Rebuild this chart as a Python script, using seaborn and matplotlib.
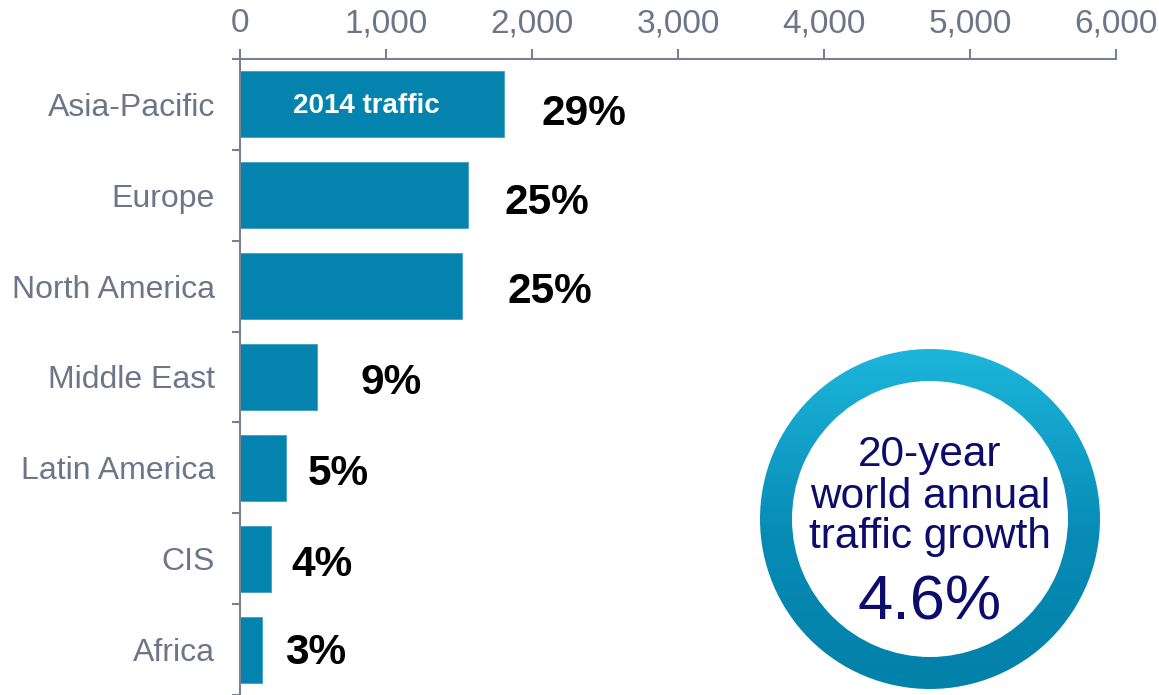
import matplotlib
matplotlib.use("Agg")
import matplotlib.pyplot as plt
import matplotlib.patches as mpatches
from matplotlib.colors import LinearSegmentedColormap
from matplotlib import font_manager
import numpy as np
import pandas as pd
import seaborn as sns

# data
regions = ["Asia-Pacific", "Europe", "North America", "Middle East",
           "Latin America", "CIS", "Africa"]
traffic_2014 = [1808, 1564, 1523, 530, 313, 210, 153]
share_labels = ["29%", "25%", "25%", "9%", "5%", "4%", "3%"]
x_ticks = [0, 1000, 2000, 3000, 4000, 5000, 6000]
x_tick_labels = ["0", "1,000", "2,000", "3,000", "4,000", "5,000", "6,000"]
bar_text = "2014 traffic"
growth_lines = ["20-year", "world annual", "traffic growth"]
growth_value = "4.6%"

# styling
BAR = "#0383ad"
GREY = "#6e7588"
AXIS = "#7a8191"
NAVY = "#0c0c6c"
PX = 0.72  # points per pixel at dpi 100

sns.set_theme(style="white")
plt.rcParams["font.family"] = ["Liberation Sans", "DejaVu Sans"]

installed = {f.name for f in font_manager.fontManager.ttflist}
narrow = "Liberation Sans Narrow" if "Liberation Sans Narrow" in installed else "Liberation Sans"
tick_size = 25 if narrow != "Liberation Sans" else 24

fig = plt.figure(figsize=(11.59, 6.95), dpi=100)
ax = fig.add_axes([240 / 1159, 0, 876 / 1159, 636 / 695])

df = pd.DataFrame({"region": regions, "traffic": traffic_2014})
sns.barplot(data=df, x="traffic", y="region", orient="h", color=BAR,
            saturation=1, width=0.726, edgecolor="#3f9fc3", linewidth=0.6, ax=ax)

ax.set_xlim(0, 6000)
ax.set_ylim(6.5, -0.5)
ax.set_xlabel("")
ax.set_ylabel("")

# x axis on top
ax.xaxis.tick_top()
ax.set_xticks(x_ticks)
ax.set_xticklabels(x_tick_labels, fontfamily=narrow, fontsize=tick_size, color=GREY)
ax.tick_params(axis="x", top=True, labeltop=True, bottom=False, labelbottom=False,
               direction="out", length=10 * PX, width=1.5, color=AXIS, pad=7)

# category labels, ticks between categories
ax.tick_params(axis="y", which="major", left=False, length=0, pad=18,
               labelsize=23, labelcolor=GREY)
ax.set_yticks(np.arange(-0.5, len(regions), 1), minor=True)
ax.tick_params(axis="y", which="minor", left=True, direction="out",
               length=8 * PX, width=1.5, color=AXIS)

for side in ["bottom", "right"]:
    ax.spines[side].set_visible(False)
for side in ["top", "left"]:
    ax.spines[side].set_color(AXIS)
    ax.spines[side].set_linewidth(1.5)

# share labels next to the bars
label_dx = [38, 36, 45, 43, 22, 21, 23]
label_dy = [21, 19, 17, 17, 17, 17, 14]
for i, (v, lab) in enumerate(zip(traffic_2014, share_labels)):
    ax.annotate(lab, xy=(v, i), xytext=(label_dx[i] * PX, -label_dy[i] * PX),
                textcoords="offset points", ha="left", va="baseline",
                fontsize=30.5, fontweight="bold", color="black")

ax.annotate(bar_text, xy=(traffic_2014[0] * 0.477, 0), xytext=(0, -9 * PX),
            textcoords="offset points", ha="center", va="baseline",
            fontsize=20, fontweight="bold", color="white")

# growth ring with vertical gradient
ax2 = fig.add_axes([760 / 1159, 6 / 695, 340 / 1159, 340 / 695])
ax2.set_xlim(-1, 1)
ax2.set_ylim(-1, 1)
ax2.axis("off")
ring_cmap = LinearSegmentedColormap.from_list(
    "ring", [(0, "#0281a9"), (0.45, "#078bb5"), (1, "#1db6db")])
grad = np.linspace(0, 1, 256).reshape(-1, 1)
im = ax2.imshow(grad, extent=(-1, 1, -1, 1), origin="lower", cmap=ring_cmap,
                aspect="auto")
ring = mpatches.Wedge((0, 0), 1, 0, 360, width=32 / 170,
                      facecolor="none", edgecolor="none", transform=ax2.transData)
ax2.add_patch(ring)
im.set_clip_path(ring)

line_y = [0.312, 0.065, -0.171]
for y, txt in zip(line_y, growth_lines):
    ax2.text(0, y, txt, ha="center", va="baseline", fontsize=30.5, color=NAVY)
ax2.text(0, -0.594, growth_value, ha="center", va="baseline", fontsize=45.5, color=NAVY)

fig.savefig("out.png", dpi=100)
